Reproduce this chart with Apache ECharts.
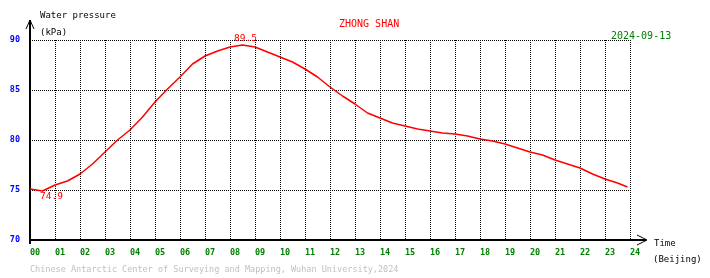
<!DOCTYPE html>
<html><head><meta charset="utf-8">
<script src="https://cdn.jsdelivr.net/npm/echarts@6/dist/echarts.min.js"></script>
<style>html,body{margin:0;padding:0;background:#fff}#c{width:710px;height:278px}</style>
</head><body><div id="c"></div>
<script>
var hours = [0,0.25,0.5,0.75,1,1.5,2,2.5,3,3.5,4,4.5,5,5.5,6,6.5,7,7.5,8,8.5,9,9.5,10,10.5,11,11.5,12,12.5,13,13.5,14,14.5,15,15.5,16,16.5,17,17.5,18,18.5,19,19.5,20,20.5,21,21.5,22,22.5,23,23.5,23.9];
var pressure = [75.1,75.0,74.9,75.2,75.5,75.9,76.6,77.6,78.8,80.0,81.0,82.3,83.8,85.1,86.3,87.6,88.4,88.9,89.3,89.5,89.3,88.8,88.3,87.8,87.1,86.3,85.3,84.4,83.6,82.7,82.2,81.7,81.4,81.1,80.9,80.7,80.6,80.4,80.1,79.9,79.6,79.2,78.8,78.5,78.0,77.6,77.2,76.6,76.1,75.7,75.3];
var yTicks = [70,75,80,85,90];
var xTickLabels = ['00','01','02','03','04','05','06','07','08','09','10','11','12','13','14','15','16','17','18','19','20','21','22','23','24'];

var mono = '"DejaVu Sans Mono", "Liberation Mono", monospace';
var chart = echarts.init(document.getElementById('c'), null, {renderer:'canvas'});
var data = hours.map(function(h,i){return [h, pressure[i]];});
chart.setOption({
  animation:false,
  backgroundColor:'#fff',
  grid:{left:30,right:80,top:40,bottom:38,containLabel:false},
  xAxis:{type:'value',min:0,max:24,interval:1,
    axisLine:{show:true,lineStyle:{color:'#000',width:2}},
    axisTick:{show:false},
    axisLabel:{color:'#008000',fontFamily:mono,fontSize:8.5,fontWeight:'bold',align:'left',margin:8,
      formatter:function(v){return xTickLabels[Math.round(v)];}},
    splitLine:{show:true,lineStyle:{color:'#000',type:[1,1],width:1}}
  },
  yAxis:{type:'value',min:yTicks[0],max:yTicks[yTicks.length-1],interval:5,
    axisLine:{show:true,lineStyle:{color:'#000',width:2}},
    axisTick:{show:false},
    axisLabel:{color:'#0000ff',fontFamily:mono,fontSize:8.5,fontWeight:'bold',margin:10},
    splitLine:{show:true,lineStyle:{color:'#000',type:[1,1],width:1}}
  },
  series:[{type:'line',data:data,showSymbol:false,smooth:false,
    lineStyle:{color:'#ff0000',width:1.5},
    markPoint:{symbol:'circle',symbolSize:0,
      label:{color:'#ff0000',fontFamily:mono,fontSize:9.5},
      data:[
        {type:'min',label:{position:'bottom',distance:1,offset:[9,0],formatter:function(p){return p.value.toFixed(1);}}},
        {type:'max',label:{position:'top',distance:1,offset:[3,0],formatter:function(p){return p.value.toFixed(1);}}}
      ]}
  }],
  graphic:[
    {type:'line',shape:{x1:30,y1:40,x2:30,y2:20},style:{stroke:'#000',lineWidth:2}},
    {type:'line',shape:{x1:30,y1:240,x2:30,y2:244},style:{stroke:'#000',lineWidth:2}},
    {type:'polyline',shape:{points:[[26,29],[30,20],[34,29]]},style:{stroke:'#000',lineWidth:1,fill:null}},
    {type:'line',shape:{x1:630,y1:240,x2:646,y2:240},style:{stroke:'#000',lineWidth:2}},
    {type:'polyline',shape:{points:[[637,235],[647,240],[637,245]]},style:{stroke:'#000',lineWidth:1,fill:null}},
    {type:'text',left:40,top:11,style:{text:'Water pressure',fill:'#000',font:'9px '+mono}},
    {type:'text',left:40,top:28,style:{text:'(kPa)',fill:'#000',font:'9px '+mono}},
    {type:'text',left:339,top:19,style:{text:'ZHONG SHAN',fill:'#ff0000',font:'10px '+mono}},
    {type:'text',left:611,top:31,style:{text:'2024-09-13',fill:'#008000',font:'10px '+mono,backgroundColor:'#fff'}},
    {type:'text',left:654,top:239,style:{text:'Time',fill:'#000',font:'9px '+mono}},
    {type:'text',left:653,top:255,style:{text:'(Beijing)',fill:'#000',font:'9px '+mono}},
    {type:'text',left:30,top:265,style:{text:'Chinese Antarctic Center of Surveying and Mapping, Wuhan University,2024',fill:'#c0c0c0',font:'8.5px '+mono}}
  ]
});
</script></body></html>
